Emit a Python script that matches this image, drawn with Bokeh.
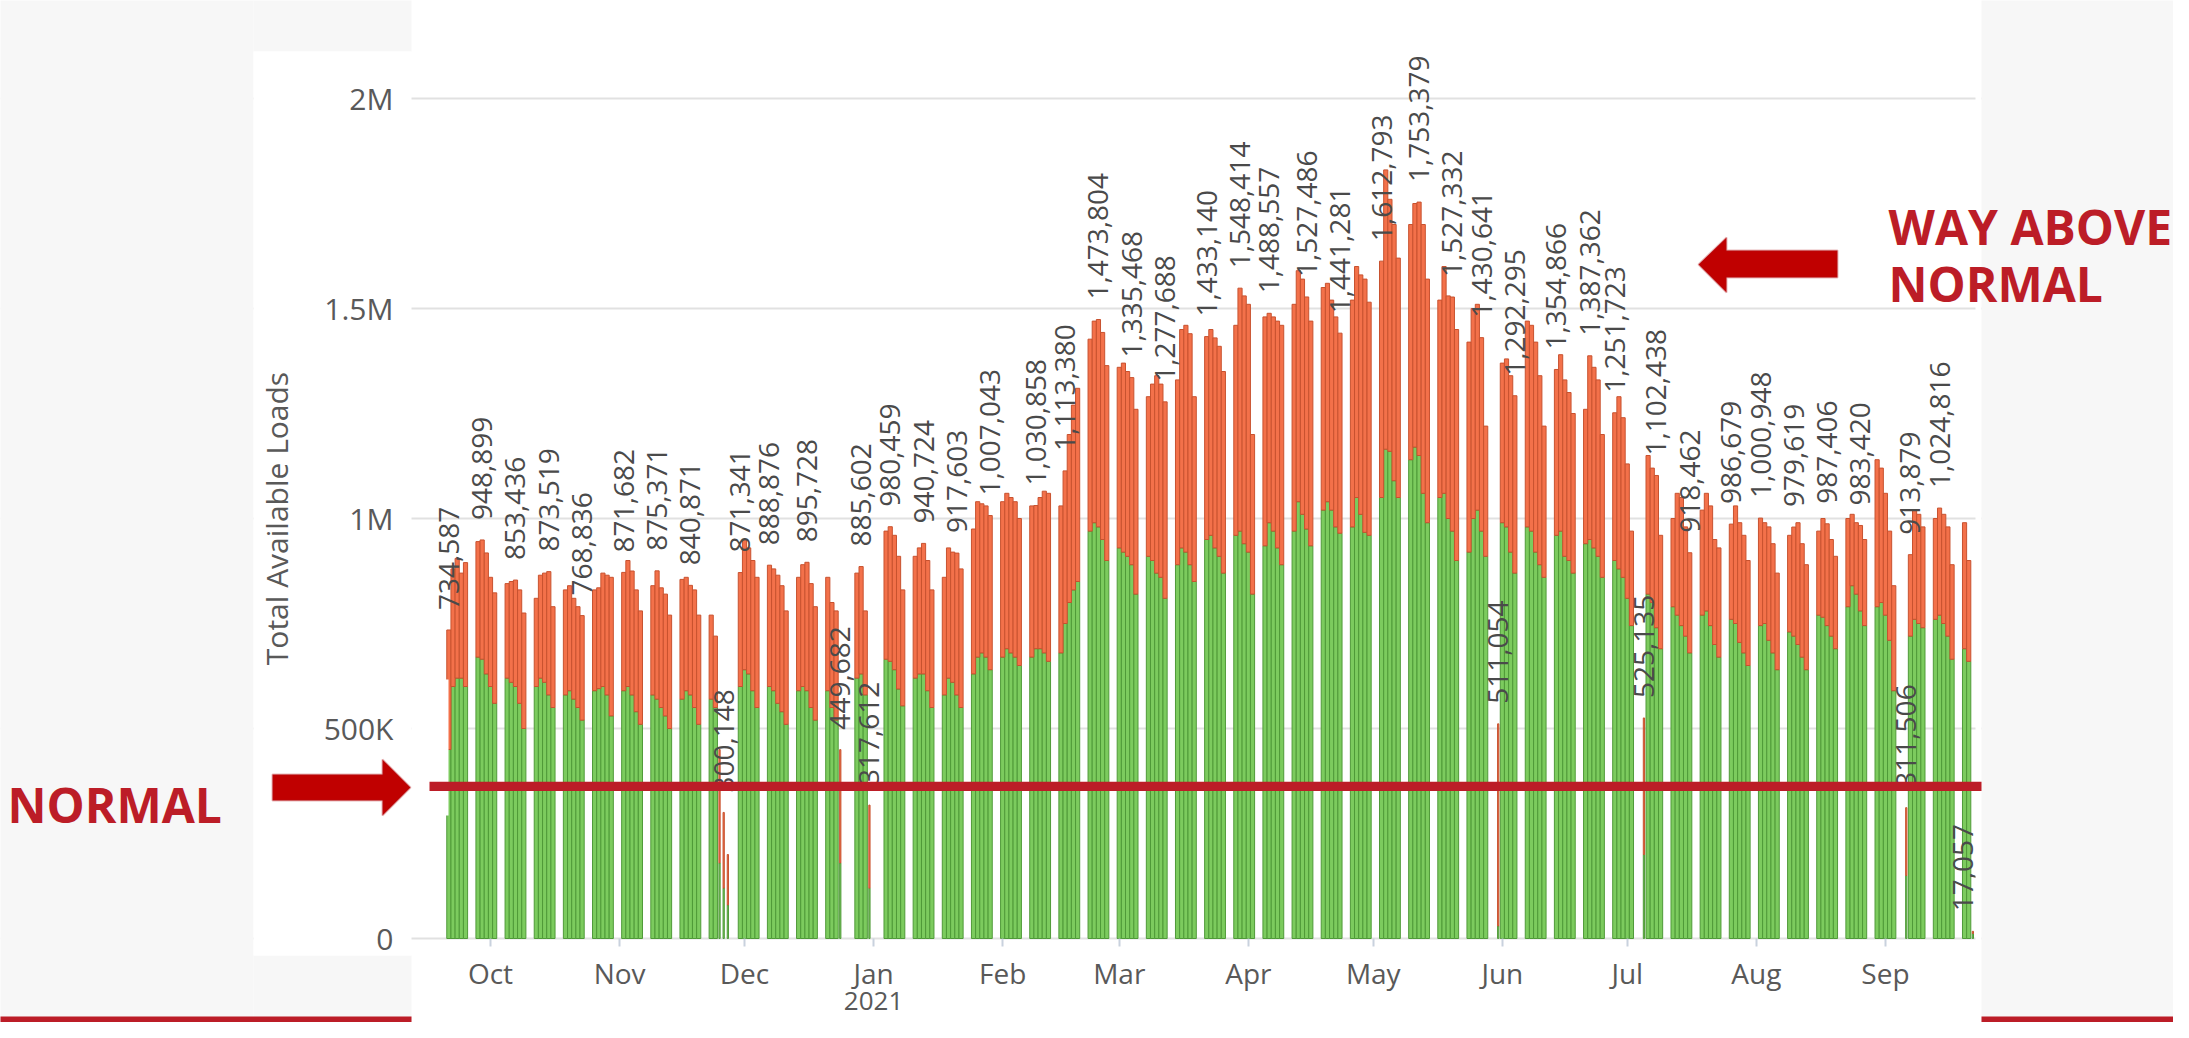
import numpy as np
import pandas as pd
from bokeh.plotting import figure
from bokeh.models import Range1d, FixedTicker, BoxAnnotation, PolyAnnotation, Label, ColumnDataSource
from bokeh.core.properties import value
from bokeh.embed import file_html
from bokeh.resources import INLINE

# ---------------- data ----------------
first_day = "2020-09-21"
last_day = "2021-09-22"

# daily total available loads (thousands), weekdays only, one row per week (Mon..Fri)
total_k = [
    734.587, 880, 905, 870, 895,
    945, 948.899, 918, 860, 823,
    845, 850, 853.436, 830, 775,
    810, 865, 870, 873.519, 790,
    830, 840, 810, 790, 768.836,
    830, 835, 870, 865, 860,
    871.682, 900, 875, 830, 780,
    840, 875.371, 835, 820, 770,
    855, 860, 840.871, 830, 770,
    770, 720, 450, 300.148, 200,
    871.341, 950, 930, 900, 860,
    888.876, 880, 865, 840, 780,
    860, 890, 895.728, 845, 790,
    860, 800, 780, 449.682, 0,
    870, 885.602, 780, 317.612, 0,
    970, 980.459, 960, 910, 830,
    910, 930, 940.724, 900, 830,
    860, 930, 920, 917.603, 880,
    975, 1040, 1035, 1030, 1007.043,
    1040, 1060, 1050, 1040, 1000,
    1030, 1030.858, 1050, 1065, 1060,
    1030, 1113.380, 1200, 1270, 1310,
    1427, 1470, 1473.804, 1443, 1364,
    1360, 1370, 1350, 1335.468, 1260,
    1290, 1320, 1340, 1320, 1277.688,
    1330, 1450, 1460, 1440, 1290,
    1433.140, 1450, 1430, 1410, 1350,
    1460, 1548.414, 1530, 1510, 1200,
    1480, 1488.557, 1480, 1470, 1460,
    1510, 1590, 1570, 1527.486, 1470,
    1550, 1560, 1520, 1480, 1441.281,
    1520, 1600, 1580, 1570, 1515,
    1612.793, 1830, 1760, 1700, 1620,
    1700, 1750, 1753.379, 1700, 1570,
    1520, 1600, 1530, 1527.332, 1450,
    1420, 1500, 1510, 1430.641, 1220,
    511.054, 1370, 1380, 1340, 1292.295,
    1470, 1460, 1420, 1340, 1220,
    1354.866, 1390, 1330, 1300, 1250,
    1260, 1387.362, 1360, 1330, 1200,
    1251.723, 1290, 1240, 1130, 970,
    525.135, 1150, 1120, 1102.438, 960,
    1000, 1060, 1050, 980, 918.462,
    1020, 1060, 1030, 950, 930,
    986.679, 1030, 990, 960, 900,
    1000.948, 990, 980, 940, 870,
    960, 979.619, 990, 940, 890,
    970, 1000, 987.406, 950, 910,
    1000, 1010, 990, 983.420, 950,
    1140, 1120, 1060, 970, 840,
    311.506, 913.879, 1020, 1010, 980,
    1000, 1024.816, 1010, 980, 890,
    990, 900, 17.057,
]

# green (lower) part of each day's bar (thousands)
green_k = [
    450, 600, 620, 620, 600,
    670, 665, 630, 600, 560,
    620, 610, 600, 560, 500,
    600, 620, 610, 580, 550,
    580, 590, 570, 550, 520,
    590, 595, 600, 580, 530,
    590, 600, 580, 540, 510,
    580, 570, 550, 530, 500,
    570, 590, 580, 550, 510,
    570, 550, 180, 120, 80,
    600, 640, 630, 590, 550,
    600, 590, 560, 540, 510,
    590, 600, 590, 550, 520,
    590, 550, 520, 180, 0,
    620, 630, 580, 120, 0,
    665, 660, 640, 594, 554,
    620, 630, 630, 590, 550,
    580, 620, 610, 580, 550,
    630, 670, 680, 670, 640,
    670, 690, 680, 670, 650,
    670, 690, 690, 680, 660,
    680, 750, 800, 830, 850,
    970, 990, 980, 950, 900,
    930, 920, 910, 890, 820,
    910, 900, 870, 860, 810,
    890, 930, 920, 890, 850,
    950, 960, 930, 910, 870,
    960, 970, 940, 920, 820,
    935, 990, 970, 930, 890,
    970, 1040, 1010, 975, 935,
    1020, 1040, 1020, 980, 965,
    980, 1050, 1010, 967, 960,
    1050, 1165, 1160, 1090, 1050,
    1140, 1170, 1150, 1060, 990,
    1050, 1060, 1000, 970, 900,
    920, 1000, 1020, 970, 910,
    30, 990, 980, 920, 870,
    980, 970, 920, 890, 860,
    960, 970, 910, 900, 870,
    940, 950, 930, 910, 860,
    900, 880, 860, 810, 745,
    200, 820, 800, 740, 690,
    790, 770, 745, 720, 680,
    770, 780, 745, 700, 670,
    760, 750, 705, 680, 650,
    745, 750, 710, 680, 640,
    730, 720, 700, 670, 640,
    770, 765, 745, 720, 690,
    790, 840, 820, 780, 745,
    790, 800, 770, 710, 590,
    150, 720, 760, 750, 740,
    760, 770, 750, 720, 665,
    690, 660, 12,
]

# days whose value is written above the bar
label_dates = [
    "2020-09-21", "2020-09-29", "2020-10-07", "2020-10-15", "2020-10-23",
    "2020-11-02", "2020-11-10", "2020-11-18", "2020-11-26", "2020-11-30",
    "2020-12-07", "2020-12-16", "2020-12-24", "2020-12-29", "2020-12-31",
    "2021-01-05", "2021-01-13", "2021-01-21", "2021-01-29", "2021-02-09",
    "2021-02-16", "2021-02-24", "2021-03-04", "2021-03-12", "2021-03-22",
    "2021-03-30", "2021-04-06", "2021-04-15", "2021-04-23", "2021-05-03",
    "2021-05-12", "2021-05-20", "2021-05-27", "2021-05-31", "2021-06-04",
    "2021-06-14", "2021-06-22", "2021-06-28", "2021-07-05", "2021-07-08",
    "2021-07-16", "2021-07-26", "2021-08-02", "2021-08-10", "2021-08-18",
    "2021-08-26", "2021-09-06", "2021-09-07", "2021-09-14", "2021-09-22",
]

month_ticks = ["2020-10-01", "2020-11-01", "2020-12-01", "2021-01-01", "2021-02-01",
               "2021-03-01", "2021-04-01", "2021-05-01", "2021-06-01", "2021-07-01",
               "2021-08-01", "2021-09-01"]
month_labels = ["Oct", "Nov", "Dec", "Jan", "Feb", "Mar", "Apr", "May", "Jun", "Jul", "Aug", "Sep"]
year_tick = ("2021-01-01", "2021")

y_ticks = [0, 500000, 1000000, 1500000, 2000000]
y_tick_labels = ["0", "500K", "1M", "1.5M", "2M"]

normal_level = 362000
y_title = "Total Available Loads"
note_high = ["WAY ABOVE", "NORMAL"]
note_normal = "NORMAL"

# ---------------- layout (page pixels) ----------------
W, H, M = 2173, 1022, 8
CARD_L, CARD_R, CARD_T, CARD_B = 419, 1983, 26, 946     # chart area of the card
ORIGIN_X = 498.0          # page x of first month tick
PX_PER_DAY = 4.164
PX_PER_LOAD = 420.0 / 1e6

base = pd.Timestamp(month_ticks[0])


def dx(px):
    return (px - ORIGIN_X) / PX_PER_DAY


def dy(py):
    return (CARD_B - py) / PX_PER_LOAD


GREEN, GREEN_EDGE = "#7ccb5e", "#4f9a38"
ORANGE, ORANGE_EDGE = "#f3714a", "#c8522f"
RED, ARROW_RED = "#bc1d27", "#c00000"
PAGE_GREY = "#f7f7f7"
FONT = "Open Sans"
TICK_GREY = "#595959"

dates = pd.bdate_range(first_day, last_day)
x = np.array((dates - base).days, dtype=float)
total = np.array(total_k, dtype=float) * 1000
green = np.array(green_k, dtype=float) * 1000
keep = total > 0
width = np.where(total < 600000, 0.3, 1.0)
src = ColumnDataSource(dict(x=x[keep], t=total[keep], g=green[keep], w=width[keep]))

# the frame covers the whole canvas; axes are pinned inside it
p = figure(width=W, height=H, x_range=Range1d(dx(M), dx(M + W)), y_range=Range1d(dy(M + H), dy(M)),
           output_backend="svg", toolbar_location=None,
           min_border_left=0, min_border_right=0, min_border_top=0, min_border_bottom=0)
p.outline_line_color = None
p.background_fill_color = "white"
p.border_fill_color = "white"

def box(l, r, t, b, color, level="glyph"):
    p.add_layout(BoxAnnotation(left=dx(l), right=dx(r), top=dy(t), bottom=dy(b),
                               fill_color=color, fill_alpha=1.0, line_color=None, level=level))

# page background around the white chart card (also hides grid lines outside the chart)
box(-20, 261, -20, 1060, PAGE_GREY)
box(261, 419, -20, 59, PAGE_GREY)
box(261, 419, 963, 1060, PAGE_GREY)
box(261, 419, 59, 963, "white")
box(1983, 1989, -20, 1060, "white")
box(1989, 2200, -20, 1060, PAGE_GREY)
box(-20, 419, 1024, 1040, RED)
box(1989, 2200, 1024, 1040, RED)

# bars
p.vbar(x="x", width="w", bottom=0, top="g", source=src,
       fill_color=GREEN, line_color=GREEN_EDGE, line_width=1)
p.vbar(x="x", width="w", bottom="g", top="t", source=src,
       fill_color=ORANGE, line_color=ORANGE_EDGE, line_width=1)

# screenshot overlap that hides part of the first bar
box(419, 456, 687, 823, "white", level="annotation")

# value labels
x_end = dx(CARD_R)
lab_idx = [dates.get_loc(pd.Timestamp(d)) for d in label_dates]
lab_x = x[lab_idx]
lab_y = total[lab_idx]
lab_txt = [f"{int(round(v)):,}" for v in lab_y]
lab_off = [-10 if xx > x_end - 1.5 else 0 for xx in lab_x]
lsrc = ColumnDataSource(dict(x=lab_x, y=lab_y, text=lab_txt, xo=lab_off))
p.text(x="x", y="y", text="text", source=lsrc, angle=np.pi / 2,
       text_align="left", text_baseline="alphabetic", x_offset="xo", y_offset=-20,
       text_font=value(FONT), text_font_size="28px", text_color="#4a4a4a")

# axes
month_x = [int((pd.Timestamp(m) - base).days) for m in month_ticks]
p.xaxis.fixed_location = 0
p.xaxis.bounds = (dx(CARD_L), x_end)
p.xaxis.ticker = FixedTicker(ticks=month_x)
p.xaxis.major_label_overrides = {mx: lab for mx, lab in zip(month_x, month_labels)}
p.xaxis.axis_line_color = None
p.xaxis.major_tick_line_color = "#c9d2de"
p.xaxis.major_tick_line_width = 2
p.xaxis.major_tick_out = 8
p.xaxis.major_tick_in = 0
p.xaxis.minor_tick_line_color = None
p.xaxis.major_label_standoff = 7
p.xaxis.major_label_text_font = FONT
p.xaxis.major_label_text_font_size = "28px"
p.xaxis.major_label_text_color = TICK_GREY

p.yaxis.fixed_location = dx(CARD_L)
p.yaxis.bounds = (y_ticks[0], y_ticks[-1])
p.yaxis.ticker = FixedTicker(ticks=y_ticks)
p.yaxis.major_label_overrides = {t: lab for t, lab in zip(y_ticks, y_tick_labels)}
p.yaxis.axis_line_color = None
p.yaxis.major_tick_line_color = None
p.yaxis.minor_tick_line_color = None
p.yaxis.major_tick_out = 0
p.yaxis.major_tick_in = 0
p.yaxis.major_label_standoff = 18
p.yaxis.major_label_text_font = FONT
p.yaxis.major_label_text_font_size = "30px"
p.yaxis.major_label_text_color = TICK_GREY
p.yaxis.axis_label = y_title
p.yaxis.axis_label_text_font = FONT
p.yaxis.axis_label_text_font_style = "normal"
p.yaxis.axis_label_text_font_size = "30px"
p.yaxis.axis_label_text_color = TICK_GREY
p.yaxis.axis_label_standoff = 24

p.xgrid.visible = False
p.ygrid.ticker = FixedTicker(ticks=y_ticks)
p.ygrid.grid_line_color = "#e1e1e1"
p.ygrid.grid_line_width = 2

year_x = (pd.Timestamp(year_tick[0]) - base).days
p.add_layout(Label(x=year_x, y=dy(1008), text=year_tick[1], text_align="center",
                   text_baseline="middle", text_font=FONT, text_font_size="26px",
                   text_color=TICK_GREY))

# "normal" reference band
p.add_layout(BoxAnnotation(left=dx(437), right=dx(1989), bottom=normal_level - 11000,
                           top=normal_level + 11000, fill_color=RED, fill_alpha=1.0,
                           line_color=None, level="overlay"))

# arrows
def arrow(xs, ys):
    p.add_layout(PolyAnnotation(xs=[dx(v) for v in xs], ys=[dy(v) for v in ys],
                                fill_color=ARROW_RED, fill_alpha=1.0,
                                line_color="#b0161f", line_width=2, level="overlay"))

arrow([280, 390, 390, 418, 390, 390, 280], [782, 782, 767, 795, 823, 808, 808])
arrow([1845, 1734, 1734, 1706, 1734, 1734, 1845], [258, 258, 245, 272, 300, 285, 285])

def note(px, py, txt):
    p.add_layout(Label(x=dx(px), y=dy(py), text=txt, text_align="left",
                       text_baseline="alphabetic", text_font=FONT, text_font_style="bold",
                       text_font_size="48px", text_color=RED, level="overlay"))

note(15, 812, note_normal)
note(1896, 234, note_high[0])
note(1896, 291, note_high[1])

open("out.html", "w").write(file_html(p, INLINE))
